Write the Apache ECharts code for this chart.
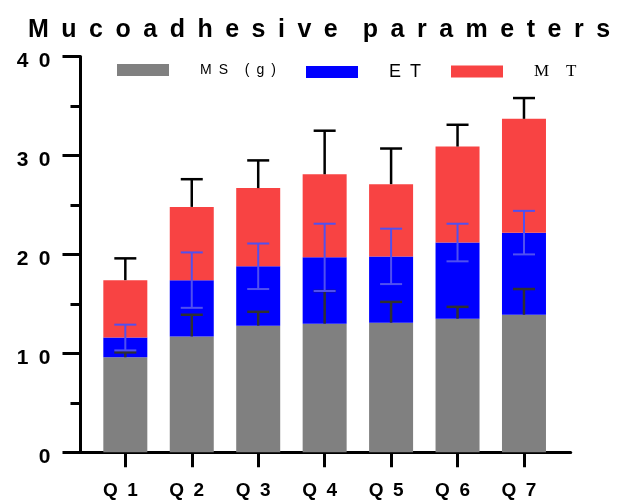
<!DOCTYPE html>
<html>
<head>
<meta charset="utf-8">
<script src="https://cdn.jsdelivr.net/npm/echarts@6/dist/echarts.min.js"></script>
<style>
  html, body { margin: 0; padding: 0; background: #fff; }
  #chart { width: 622px; height: 503px; }
</style>
</head>
<body>
<div id="chart"></div>
<script>
// Formulations and stacked mean values (segment heights)
const categories = ['Q1', 'Q2', 'Q3', 'Q4', 'Q5', 'Q6', 'Q7'];
const msValues = [9.6, 11.7, 12.8, 13.0, 13.1, 13.5, 13.9];
const etValues = [2.0, 5.7, 6.0, 6.7, 6.7, 7.7, 8.3];
const mtValues = [5.8, 7.4, 7.9, 8.4, 7.3, 9.7, 11.5];
// Standard deviations for each segment
const msSD = [0.5, 2.2, 1.4, 3.3, 2.1, 1.2, 2.6];
const etSD = [1.3, 2.8, 2.3, 3.4, 2.8, 1.9, 2.2];
const mtSD = [2.2, 2.8, 2.8, 4.4, 3.6, 2.2, 2.1];
// Value axis range
const yMin = 0;
const yMax = 40;
const yStep = 10;

const seriesNames = ['MS (g)', 'ET', 'MT'];
const titleText = 'Mucoadhesive parameters';

// Wide letter spacing, done with spacing characters between glyphs
function spaced(text, sep, wordSep) {
  return text.split(' ').map(w => w.split('').join(sep)).join(wordSep || sep);
}

const legendText = {
  'MS (g)': 'M\u2002S\u2003\u2009(\u2002g\u2002)',
  'ET': 'E\u2002T',
  'MT': 'M\u2003T'
};

const BAR_W = 44;

// cumulative tops of each stacked segment
const msTop = msValues.slice();
const etTop = msValues.map((v, i) => v + etValues[i]);
const mtTop = etTop.map((v, i) => v + mtValues[i]);

// [category, from, to, capAtFrom]
const msErr = msTop.map((t, i) => [i, t, t + msSD[i], 0]);
const etErr = etTop.map((t, i) => [i, t - etSD[i], t + etSD[i], 1]);
const mtErr = mtTop.map((t, i) => [i, t, t + mtSD[i], 0]);

function errorBars(color, width) {
  return function (params, api) {
    const x = api.value(0);
    const lo = api.coord([x, api.value(1)]);
    const hi = api.coord([x, api.value(2)]);
    const half = BAR_W / 4;
    const style = { stroke: color, lineWidth: width };
    const children = [
      { type: 'line', shape: { x1: lo[0], y1: lo[1], x2: hi[0], y2: hi[1] }, style: style },
      { type: 'line', shape: { x1: hi[0] - half, y1: hi[1], x2: hi[0] + half, y2: hi[1] }, style: style }
    ];
    if (api.value(3)) {
      children.push({ type: 'line', shape: { x1: lo[0] - half, y1: lo[1], x2: lo[0] + half, y2: lo[1] }, style: style });
    }
    return { type: 'group', children: children };
  };
}

function legendFor(name, left, top, font) {
  return {
    data: [name],
    left: left,
    top: top,
    orient: 'horizontal',
    icon: 'rect',
    itemWidth: 52,
    itemHeight: 12,
    selectedMode: false,
    formatter: n => '{t|' + legendText[n] + '}',
    textStyle: {
      rich: {
        t: Object.assign({ color: '#000', padding: [0, 0, 0, 26] }, font)
      }
    }
  };
}

const chart = echarts.init(document.getElementById('chart'), null, { renderer: 'canvas' });

chart.setOption({
  animation: false,
  backgroundColor: '#fff',
  title: {
    text: spaced(titleText, '\u2002', '\u2002\u2002'),
    left: 23,
    top: 13,
    textStyle: { fontFamily: 'Liberation Sans', fontWeight: 'bold', fontSize: 25, color: '#000' }
  },
  legend: [
    legendFor('MS (g)', 112, 58, { fontFamily: 'Liberation Sans', fontSize: 14 }),
    legendFor('ET', 301, 58, { fontFamily: 'Liberation Sans', fontSize: 18 }),
    legendFor('MT', 446, 58, { fontFamily: 'Liberation Serif', fontSize: 17 })
  ],
  grid: [
    { left: 92.1, right: 64.8, top: 56.5, bottom: 50.7 },
    { left: 80.5, right: 51.3, top: 56.5, bottom: 50.7 }
  ],
  xAxis: [
    {
      type: 'category',
      gridIndex: 0,
      data: categories,
      axisLine: { show: false },
      axisTick: { show: true, alignWithLabel: true, length: 15, lineStyle: { color: '#000', width: 3 } },
      axisLabel: {
        margin: 29,
        color: '#000',
        fontFamily: 'Liberation Sans',
        fontWeight: 'bold',
        fontSize: 19,
        padding: [0, 10, 0, 0],
        formatter: v => spaced(v, '\u2002')
      }
    },
    {
      type: 'value',
      gridIndex: 1,
      min: 0,
      max: 1,
      axisLine: { show: true, onZero: false, lineStyle: { color: '#000', width: 3 } },
      axisTick: { show: false },
      axisLabel: { show: false },
      splitLine: { show: false }
    }
  ],
  yAxis: [
    {
      type: 'value',
      gridIndex: 0,
      min: yMin,
      max: yMax,
      show: false
    },
    {
      type: 'value',
      gridIndex: 1,
      min: yMin,
      max: yMax,
      interval: yStep,
      axisLine: { show: true, lineStyle: { color: '#000', width: 3 } },
      axisTick: { show: true, length: 18, lineStyle: { color: '#000', width: 3 } },
      minorTick: { show: true, splitNumber: 2, length: 10, lineStyle: { color: '#000', width: 3 } },
      splitLine: { show: false },
      axisLabel: {
        margin: 30,
        formatter: v => '{n|' + spaced(String(v), '\u2002') + '}',
        rich: {
          n: {
            color: '#000',
            fontFamily: 'Liberation Sans',
            fontWeight: 'bold',
            fontSize: 21,
            padding: [9, 0, 0, 0]
          }
        }
      }
    }
  ],
  series: [
    { name: seriesNames[0], type: 'bar', stack: 'total', barWidth: BAR_W, xAxisIndex: 0, yAxisIndex: 0,
      itemStyle: { color: '#808080' }, data: msValues },
    { name: seriesNames[1], type: 'bar', stack: 'total', barWidth: BAR_W, xAxisIndex: 0, yAxisIndex: 0,
      itemStyle: { color: '#0000ff' }, data: etValues },
    { name: seriesNames[2], type: 'bar', stack: 'total', barWidth: BAR_W, xAxisIndex: 0, yAxisIndex: 0,
      itemStyle: { color: '#f84343' }, data: mtValues },
    { type: 'custom', xAxisIndex: 0, yAxisIndex: 0, z: 5, renderItem: errorBars('#303030', 2.5), data: msErr },
    { type: 'custom', xAxisIndex: 0, yAxisIndex: 0, z: 5, renderItem: errorBars('#5050f0', 2), data: etErr },
    { type: 'custom', xAxisIndex: 0, yAxisIndex: 0, z: 5, renderItem: errorBars('#000000', 2.5), data: mtErr }
  ]
});
</script>
</body>
</html>
